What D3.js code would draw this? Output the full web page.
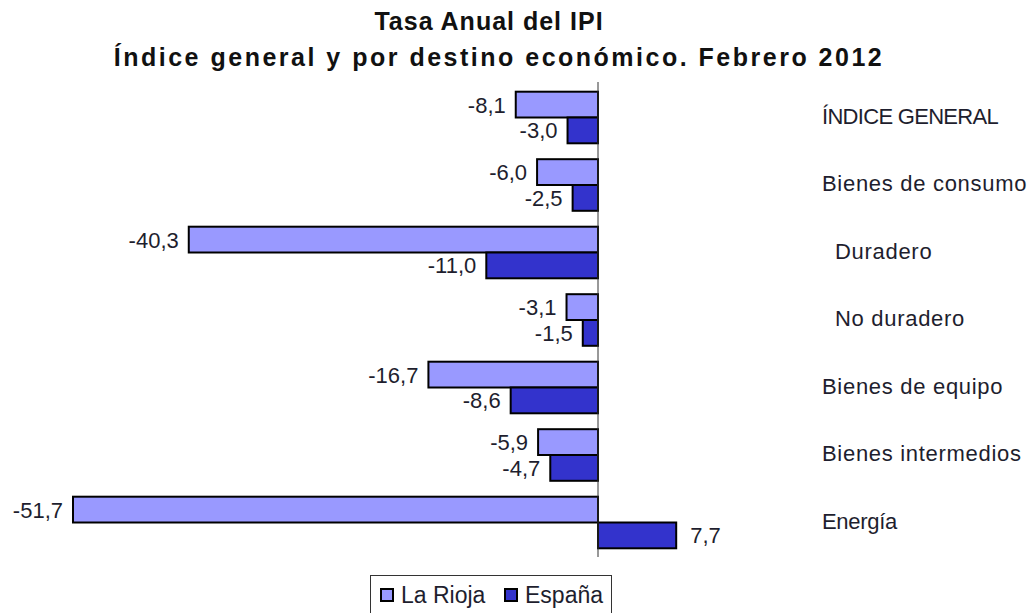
<!DOCTYPE html>
<html><head><meta charset="utf-8">
<script src="https://cdn.jsdelivr.net/npm/d3@7"></script>
<style>body{margin:0;background:#fff;}svg{display:block;font-family:"Liberation Sans",Arial,sans-serif;}</style>
</head><body><svg id="c" width="1033" height="613"></svg>
<script>
const categories = ["ÍNDICE GENERAL","Bienes de consumo","Duradero","No duradero","Bienes de equipo","Bienes intermedios","Energía"];
const indented = [false,false,true,true,false,false,false];
const laRioja = [-8.1,-6.0,-40.3,-3.1,-16.7,-5.9,-51.7];
const espana = [-3.0,-2.5,-11.0,-1.5,-8.6,-4.7,7.7];
const seriesNames = ["La Rioja","España"];
const seriesColors = ["#9999FF","#3333CC"];
const titleLines = ["Tasa Anual del IPI","Índice general y por destino económico. Febrero 2012"];

const svg = d3.select("#c");
const x = d3.scaleLinear().domain([-51.7, 7.7]).range([73, 676.2]);
const y = d3.scaleBand().domain(categories).range([82, 554.5]).padding(0);
const ys = d3.scaleBand().domain(seriesNames).range([9.7, 61.3]);
const fmt = v => d3.format(".1f")(v).replace(".", ",").replace("−","-");

const data = [];
categories.forEach((c,i)=>{
  data.push({cat:c, s:seriesNames[0], v:laRioja[i]});
  data.push({cat:c, s:seriesNames[1], v:espana[i]});
});

const g = svg.append("g");
g.selectAll("rect.bar").data(data).join("rect")
  .attr("class","bar")
  .attr("x", d=>x(Math.min(0,d.v)))
  .attr("y", d=>y(d.cat)+ys(d.s))
  .attr("width", d=>Math.abs(x(d.v)-x(0)))
  .attr("height", ys.bandwidth())
  .attr("fill", d=>seriesColors[seriesNames.indexOf(d.s)])
  .attr("stroke","#000").attr("stroke-width",2);

g.append("line").attr("x1",x(0)).attr("x2",x(0)).attr("y1",82).attr("y2",557)
  .attr("stroke","#333").attr("stroke-width",1);

g.selectAll("text.val").data(data).join("text")
  .attr("class","val")
  .attr("x", d=> d.v<0 ? x(d.v)-10 : x(d.v)+14)
  .attr("y", d=>y(d.cat)+ys(d.s)+ys.bandwidth()/2)
  .attr("dy","0.36em")
  .attr("text-anchor", d=>d.v<0?"end":"start")
  .attr("font-size",22).attr("fill","#1e1e2e")
  .text(d=>fmt(d.v));

g.selectAll("text.cat").data(categories).join("text")
  .attr("class","cat")
  .attr("x",(d,i)=>indented[i]?835:822)
  .attr("y",d=>y(d)+y.bandwidth()/2)
  .attr("dy","0.36em")
  .attr("font-size",22).attr("fill","#1e1e2e")
  .attr("letter-spacing",(d,i)=>i===0?"-0.7px":(i===6?"-0.3px":"0.7px"))
  .text(d=>d);

svg.append("text").attr("x",489).attr("y",30).attr("text-anchor","middle")
  .attr("font-size",25).attr("font-weight","bold").attr("letter-spacing","1px").attr("fill","#111")
  .text(titleLines[0]);
svg.append("text").attr("x",499).attr("y",66).attr("text-anchor","middle")
  .attr("font-size",25).attr("font-weight","bold").attr("letter-spacing","2.5px").attr("fill","#111")
  .text(titleLines[1]);

// legend
const lg = svg.append("g");
lg.append("rect").attr("x",370.5).attr("y",575.5).attr("width",241).attr("height",45)
  .attr("fill","#fff").attr("stroke","#333").attr("stroke-width",1);
const lx = [381, 505];
seriesNames.forEach((s,i)=>{
  lg.append("rect").attr("x",lx[i]).attr("y",589).attr("width",12).attr("height",12)
    .attr("fill",seriesColors[i]).attr("stroke","#000").attr("stroke-width",2);
  lg.append("text").attr("x",lx[i]+20).attr("y",595).attr("dy","0.36em")
    .attr("font-size",23).attr("fill","#1e1e2e").text(s);
});
</script></body></html>
